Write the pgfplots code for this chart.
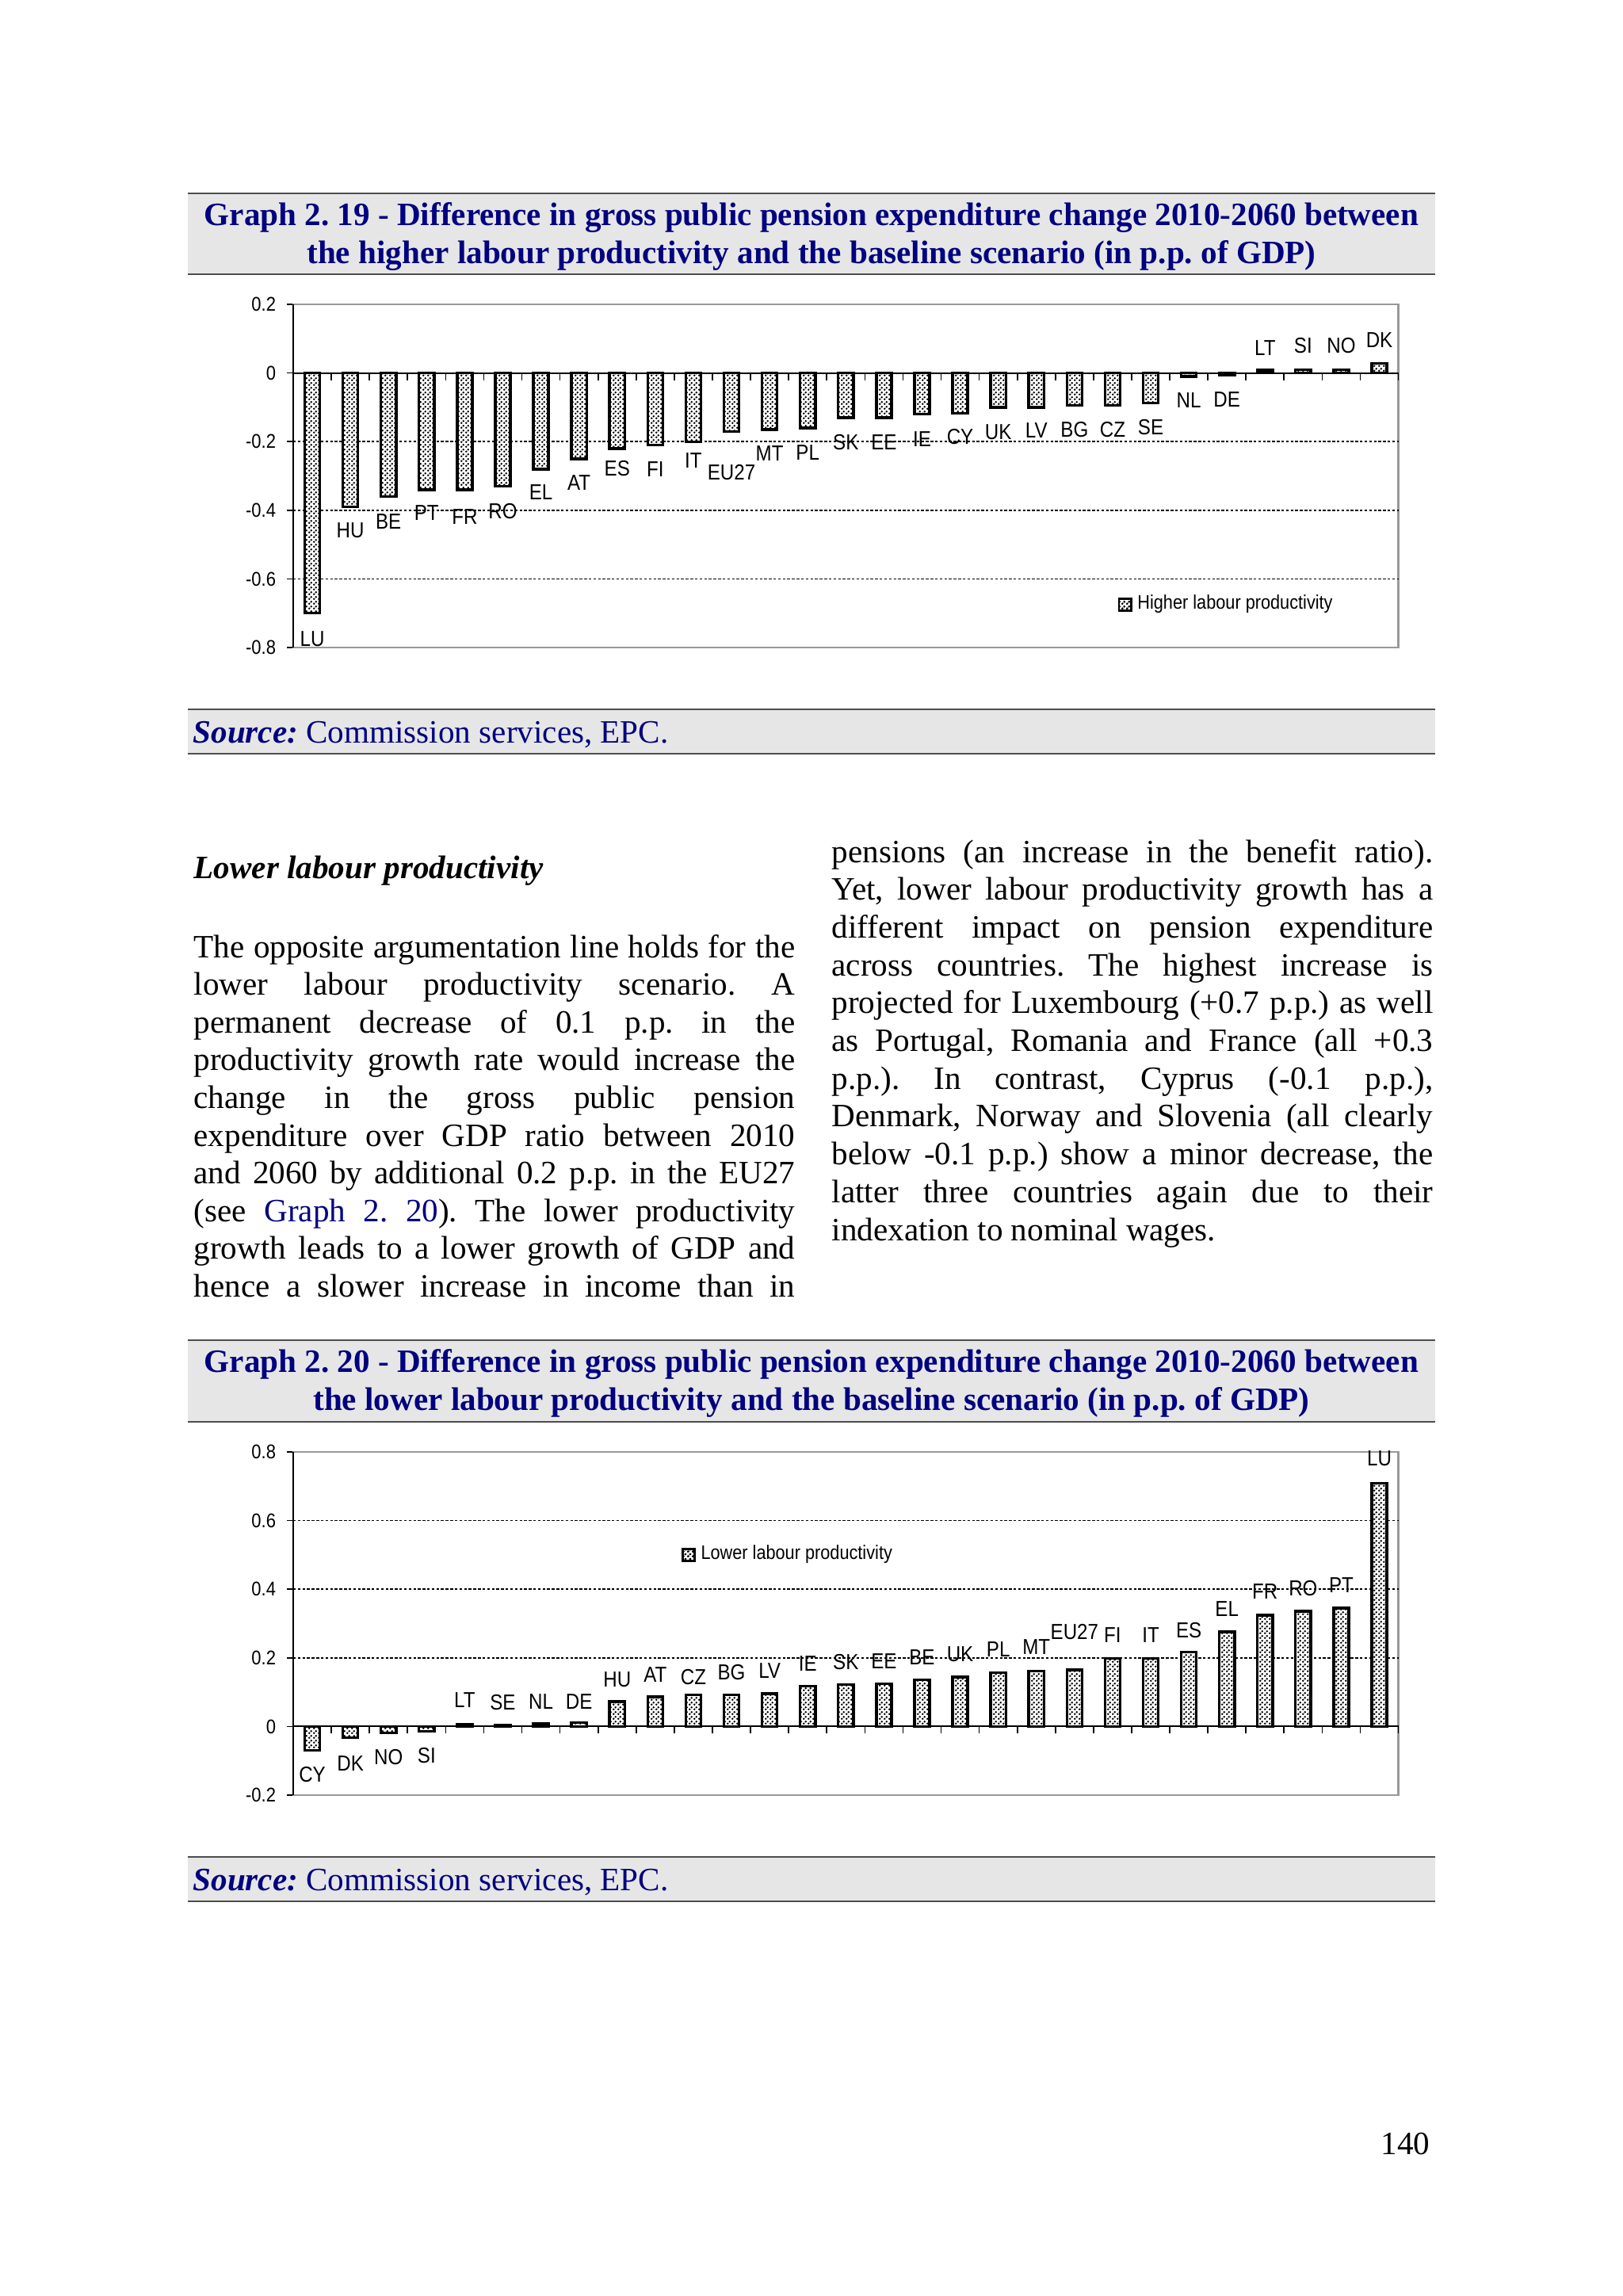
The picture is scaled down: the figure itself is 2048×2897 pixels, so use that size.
\documentclass[border=0pt]{standalone}
\usepackage{fontspec}
\setmainfont{Liberation Serif}
\newfontfamily\chartfont[FakeStretch=0.88]{Liberation Sans}
\usepackage{pgfplots}
\pgfplotsset{compat=1.18}
\usepackage{pgfplotstable}
\usetikzlibrary{patterns}
\frenchspacing

\definecolor{navy}{HTML}{000080}
\definecolor{hdr}{HTML}{E6E6E6}
\definecolor{rulec}{HTML}{4D4D4D}
\definecolor{framec}{HTML}{999999}

% fine dot fill of the bars
\pgfdeclarepatternformonly{finedots}{\pgfpointorigin}{\pgfqpoint{1.6pt}{1.6pt}}{\pgfqpoint{1.6pt}{1.6pt}}{%
  \pgfpathcircle{\pgfqpoint{0.4pt}{0.4pt}}{0.46pt}%
  \pgfpathcircle{\pgfqpoint{1.2pt}{1.2pt}}{0.46pt}%
  \pgfusepath{fill}}

% higher labour productivity minus baseline
\pgfplotstableread{
x c v ly
0 LU -0.70 -0.774
1 HU -0.39 -0.458
2 BE -0.36 -0.434
3 PT -0.34 -0.408
4 FR -0.34 -0.420
5 RO -0.33 -0.404
6 EL -0.28 -0.347
7 AT -0.25 -0.320
8 ES -0.22 -0.278
9 FI -0.21 -0.280
10 IT -0.20 -0.256
11 EU27 -0.17 -0.289
12 MT -0.165 -0.235
13 PL -0.16 -0.232
14 SK -0.13 -0.201
15 EE -0.13 -0.201
16 IE -0.12 -0.192
17 CY -0.118 -0.186
18 UK -0.10 -0.173
19 LV -0.10 -0.168
20 BG -0.095 -0.164
21 CZ -0.095 -0.164
22 SE -0.087 -0.157
23 NL -0.01 -0.079
24 DE -0.006 -0.077
25 LT 0.008 0.074
26 SI 0.01 0.080
27 NO 0.01 0.080
28 DK 0.028 0.096
}\highertab

% lower labour productivity minus baseline
\pgfplotstableread{
x c v ly
0 CY -0.07 -0.140
1 DK -0.033 -0.108
2 NO -0.018 -0.090
3 SI -0.014 -0.085
4 LT 0.006 0.078
5 SE 0.005 0.070
6 NL 0.008 0.072
7 DE 0.011 0.072
8 HU 0.073 0.137
9 AT 0.086 0.151
10 CZ 0.092 0.144
11 BG 0.092 0.157
12 LV 0.096 0.162
13 IE 0.118 0.183
14 SK 0.122 0.188
15 EE 0.125 0.191
16 BE 0.136 0.201
17 UK 0.144 0.211
18 PL 0.157 0.224
19 MT 0.162 0.231
20 EU27 0.165 0.276
21 FI 0.199 0.267
22 IT 0.199 0.267
23 ES 0.217 0.281
24 EL 0.276 0.342
25 FR 0.324 0.393
26 RO 0.336 0.402
27 PT 0.345 0.411
28 LU 0.709 0.780
}\lowertab

\pgfplotsset{
  pensionaxis/.style={
    scale only axis, width=14.30cm, height=4.44cm,
    xmin=-0.5, xmax=28.5, xtick=\empty,
    ytick pos=left, tick align=outside, major tick length=2.2pt,
    tick style={black, line width=0.5pt},
    axis line style={draw=framec, line width=0.7pt},
    extra y tick labels={},
    extra y tick style={grid=major, major tick length=0pt},
    grid style={black, line width=0.45pt, dash pattern=on 1pt off 0.7pt},
    yticklabel style={font=\chartfont\fontsize{7.3}{8}\selectfont},
    legend style={draw=none, fill=none, inner sep=0pt,
      font=\chartfont\fontsize{7.2}{8}\selectfont},
    clip=false,
  },
  bars/.style={ybar, bar width=0.4, bar shift=0pt, draw=black, line width=1pt,
    fill=white, postaction={pattern=finedots, pattern color=black},
    legend image code/.code={\draw[black, line width=0.7pt, fill=white,
      postaction={pattern=finedots, pattern color=black}] (0pt,-2.2pt) rectangle (4.4pt,2.2pt);}},
  labs/.style={draw=none, mark=none, nodes near coords, point meta=explicit symbolic,
    every node near coord/.append style={anchor=center, inner sep=0pt,
      font=\chartfont\fontsize{8}{9}\selectfont}},
}

\newlength\colw
\setlength\colw{7.78cm}
\newcommand\Lline[2]{\node[anchor=base west, inner sep=0pt] at (244,#1) {\makebox[\colw][s]{#2}};}
\newcommand\Rline[2]{\node[anchor=base west, inner sep=0pt] at (1049,#1) {\makebox[\colw][s]{#2}};}

\begin{document}
\begin{tikzpicture}[x=0.01025390625cm, y=-0.01025390625cm]
\useasboundingbox (0,0) rectangle (2048,2897);
\fontsize{12}{14}\selectfont

% ---- Graph 2.19 header
\fill[hdr] (237,244) rectangle (1811,346);
\draw[rulec, line width=0.6pt] (237,244) -- (1811,244) (237,346) -- (1811,346);
\node[anchor=base, inner sep=0pt, text=navy, font=\bfseries] at (1024,284)
  {Graph 2. 19 - Difference in gross public pension expenditure change 2010-2060 between};
\node[anchor=base, inner sep=0pt, text=navy, font=\bfseries] at (1024,332)
  {the higher labour productivity and the baseline scenario (in p.p. of GDP)};

\coordinate (P1) at (370,817);
\begin{axis}[pensionaxis, at={(P1)}, anchor=south west,
  ymin=-0.8, ymax=0.2,
  ytick={-0.8,-0.6,-0.4,-0.2,0,0.2},
  yticklabels={-0.8,-0.6,-0.4,-0.2,0,0.2},
  extra y ticks={-0.6,-0.4,-0.2},
  legend style={at={(0.746,0.125)}, anchor=west}]
  \addplot[bars] table[x=x, y=v] {\highertab};
  \addlegendentry{Higher labour productivity}
  \addplot[labs] table[x=x, y=ly, meta=c] {\highertab};
  \draw[black, line width=0.6pt] (rel axis cs:0,0) -- (rel axis cs:0,1);
  \draw[black, line width=0.6pt] (axis cs:-0.5,0) -- (axis cs:28.5,0);
  \pgfplotsinvokeforeach{0,...,28}{\draw[black, line width=0.5pt] (axis cs:#1.5,0) -- ++(0pt,-2.6pt);}
\end{axis}

\fill[hdr] (237,895) rectangle (1811,951);
\draw[rulec, line width=0.6pt] (237,895) -- (1811,895) (237,951) -- (1811,951);
\node[anchor=base west, inner sep=0pt, text=navy] at (243,937)
  {\textbf{\textit{Source:}} Commission services, EPC.};

% ---- body text
\node[anchor=base west, inner sep=0pt, font=\bfseries\itshape] at (244,1108) {Lower labour productivity};
\Lline{1208}{The opposite argumentation line holds for the}
\Lline{1255.6}{lower labour productivity scenario. A}
\Lline{1303.2}{permanent decrease of 0.1 p.p. in the}
\Lline{1350.8}{productivity growth rate would increase the}
\Lline{1398.4}{change in the gross public pension}
\Lline{1446}{expenditure over GDP ratio between 2010}
\Lline{1493.6}{and 2060 by additional 0.2 p.p. in the EU27}
\Lline{1541.2}{(see \textcolor{navy}{Graph 2. 20}). The lower productivity}
\Lline{1588.8}{growth leads to a lower growth of GDP and}
\Lline{1636.4}{hence a slower increase in income than in}

\Rline{1088}{pensions (an increase in the benefit ratio).}
\Rline{1135.7}{Yet, lower labour productivity growth has a}
\Rline{1183.4}{different impact on pension expenditure}
\Rline{1231.1}{across countries. The highest increase is}
\Rline{1278.8}{projected for Luxembourg (+0.7 p.p.) as well}
\Rline{1326.5}{as Portugal, Romania and France (all +0.3}
\Rline{1374.2}{p.p.). In contrast, Cyprus (-0.1 p.p.),}
\Rline{1421.9}{Denmark, Norway and Slovenia (all clearly}
\Rline{1469.6}{below -0.1 p.p.) show a minor decrease, the}
\Rline{1517.3}{latter three countries again due to their}
\node[anchor=base west, inner sep=0pt] at (1049,1565) {indexation to nominal wages.};

% ---- Graph 2.20 header
\fill[hdr] (237,1691) rectangle (1811,1794);
\draw[rulec, line width=0.6pt] (237,1691) -- (1811,1691) (237,1794) -- (1811,1794);
\node[anchor=base, inner sep=0pt, text=navy, font=\bfseries] at (1024,1731)
  {Graph 2. 20 - Difference in gross public pension expenditure change 2010-2060 between};
\node[anchor=base, inner sep=0pt, text=navy, font=\bfseries] at (1024,1779)
  {the lower labour productivity and the baseline scenario (in p.p. of GDP)};

\coordinate (P2) at (370,2265);
\begin{axis}[pensionaxis, at={(P2)}, anchor=south west,
  ymin=-0.2, ymax=0.8,
  ytick={-0.2,0,0.2,0.4,0.6,0.8},
  yticklabels={-0.2,0,0.2,0.4,0.6,0.8},
  extra y ticks={0.2,0.4,0.6},
  legend style={at={(0.351,0.70)}, anchor=west}]
  \addplot[bars] table[x=x, y=v] {\lowertab};
  \addlegendentry{Lower labour productivity}
  \addplot[labs] table[x=x, y=ly, meta=c] {\lowertab};
  \draw[black, line width=0.6pt] (rel axis cs:0,0) -- (rel axis cs:0,1);
  \draw[black, line width=0.6pt] (axis cs:-0.5,0) -- (axis cs:28.5,0);
  \pgfplotsinvokeforeach{0,...,28}{\draw[black, line width=0.5pt] (axis cs:#1.5,0) -- ++(0pt,-2.6pt);}
\end{axis}

\fill[hdr] (237,2343) rectangle (1811,2399);
\draw[rulec, line width=0.6pt] (237,2343) -- (1811,2343) (237,2399) -- (1811,2399);
\node[anchor=base west, inner sep=0pt, text=navy] at (243,2385)
  {\textbf{\textit{Source:}} Commission services, EPC.};

\node[anchor=base east, inner sep=0pt] at (1805,2718) {140};
\end{tikzpicture}
\end{document}
